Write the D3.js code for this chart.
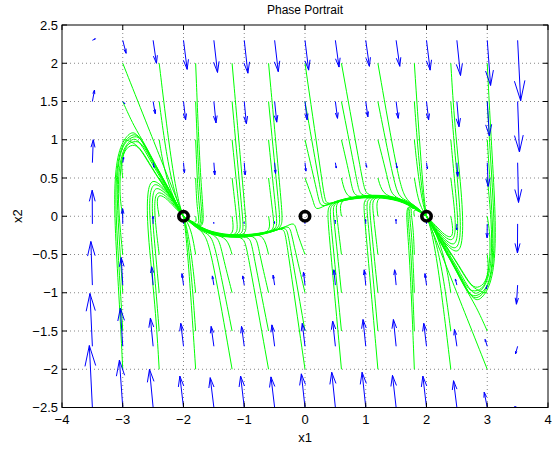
<!DOCTYPE html>
<html>
<head>
<meta charset="utf-8">
<script src="https://cdn.jsdelivr.net/npm/d3@7"></script>
<style>
  body { margin: 0; background: #fff; }
  text { font-family: "Liberation Sans", Arial, Helvetica, sans-serif; }
</style>
</head>
<body>
<svg id="chart" width="552" height="453"></svg>
<script>
// axis ticks
var xTicks = [-4, -3, -2, -1, 0, 1, 2, 3, 4];
var yTicks = [-2.5, -2, -1.5, -1, -0.5, 0, 0.5, 1, 1.5, 2, 2.5];

// quiver grid and the arrows as drawn (data units), rows follow arrowY
var arrowX = [-3.5, -3, -2.5, -2, -1.5, -1, -0.5, 0, 0.5, 1, 1.5, 2, 2.5, 3, 3.5];
var arrowY = [-2.5, -1.7, -0.9, -0.1, 0.7, 1.5, 2.3];
var arrowU = [
  [-0.05, -0.055, -0.06, -0.06, -0.06, -0.06, -0.06, -0.06, -0.06, -0.06, -0.06, -0.06, -0.055, -0.05, -0.05],
  [-0.04, -0.04, -0.045, -0.045, -0.045, -0.045, -0.045, -0.045, -0.045, -0.045, -0.045, -0.045, -0.04, -0.035, -0.035],
  [-0.025, -0.025, -0.025, -0.025, -0.025, -0.025, -0.025, -0.025, -0.025, -0.025, -0.025, -0.025, -0.025, -0.02, -0.02],
  [-0.003, -0.003, -0.003, -0.003, -0.003, -0.003, -0.003, -0.003, -0.003, -0.003, -0.003, -0.003, -0.003, -0.003, -0.003],
  [0.015, 0.015, 0.015, 0.015, 0.015, 0.015, 0.015, 0.015, 0.015, 0.015, 0.015, 0.015, 0.015, 0.015, 0.015],
  [0.035, 0.035, 0.035, 0.035, 0.035, 0.035, 0.035, 0.035, 0.035, 0.035, 0.035, 0.035, 0.035, 0.035, 0.03],
  [0.05, 0.055, 0.055, 0.06, 0.06, 0.06, 0.06, 0.06, 0.06, 0.06, 0.06, 0.06, 0.06, 0.055, 0.05]
];
var arrowV = [
  [0.81, 0.62, 0.50, 0.41, 0.39, 0.41, 0.40, 0.44, 0.46, 0.46, 0.42, 0.41, 0.35, 0.20, 0.01],
  [0.69, 0.50, 0.37, 0.30, 0.26, 0.26, 0.28, 0.30, 0.33, 0.35, 0.35, 0.30, 0.22, 0.09, -0.10],
  [0.57, 0.36, 0.24, 0.15, 0.12, 0.12, 0.13, 0.17, 0.20, 0.20, 0.20, 0.15, 0.08, -0.05, -0.25],
  [0.44, 0.20, 0.10, 0.04, 0.02, 0.02, 0.03, 0.02, 0.05, 0.06, 0.06, 0.03, -0.08, -0.18, -0.38],
  [0.30, 0.07, -0.06, -0.13, -0.16, -0.16, -0.14, -0.11, -0.07, -0.06, -0.07, -0.08, -0.18, -0.31, -0.52],
  [0.15, -0.03, -0.16, -0.24, -0.28, -0.29, -0.27, -0.24, -0.22, -0.20, -0.22, -0.24, -0.33, -0.45, -0.66],
  [0.02, -0.17, -0.30, -0.38, -0.42, -0.43, -0.41, -0.39, -0.35, -0.34, -0.34, -0.39, -0.46, -0.59, -0.79]
];

// equilibrium points
var eqX = [-2, 0, 2];
var eqY = [0, 0, 0];

// curves the trajectories settle onto, each ends at a stable point
var leftBundleX = [-2.85, -2.75, -2.65, -2.5, -2.35, -2.2, -2.1, -2];
var leftBundleY = [1.0, 0.99, 0.89, 0.67, 0.47, 0.27, 0.13, 0];
var rightBundleX = [2.85, 2.75, 2.65, 2.5, 2.35, 2.2, 2.1, 2];
var rightBundleY = [-1.0, -0.99, -0.89, -0.67, -0.47, -0.27, -0.13, 0];
var lowCurveX = [0, -0.15, -0.3, -0.5, -0.7, -0.9, -1.1, -1.3, -1.5, -1.65, -1.8, -1.9, -2];
var lowCurveY = [0, -0.06, -0.13, -0.19, -0.23, -0.255, -0.265, -0.26, -0.23, -0.19, -0.12, -0.065, 0];
var highCurveX = [0, 0.15, 0.3, 0.5, 0.7, 0.9, 1.1, 1.3, 1.5, 1.65, 1.8, 1.9, 2];
var highCurveY = [0, 0.06, 0.13, 0.19, 0.23, 0.255, 0.265, 0.26, 0.23, 0.19, 0.12, 0.065, 0];

// trajectories: start x1, start x2, curve it joins ('' = none), then points read along it
var trajectories = [
  [-3, 2, '', -2.6, 1.2, -2.37, 0.74, -2.18, 0.36, -2, 0],
  [-3, 1.5, 'L', -2.82, 1.18, -2.62, 0.92],
  [-3, 1, 'L', -2.93, 1.0, -2.78, 0.94],
  [-3, 0.5, 'L', -3.03, 0.72, -2.95, 0.9, -2.8, 0.95],
  [-3, 0, 'L', -3.06, 0.3, -3.03, 0.75, -2.93, 0.95, -2.81, 0.98],
  [-3, -0.5, 'L', -3.07, 0.05, -3.08, 0.55, -3.0, 0.88, -2.87, 1.0, -2.78, 1.02],
  [-3, -1, 'L', -3.05, -0.4, -3.1, 0.25, -3.08, 0.72, -2.98, 0.97, -2.82, 1.05],
  [-3, -1.5, 'L', -3.05, -0.8, -3.12, 0.05, -3.11, 0.6, -3.02, 0.94, -2.85, 1.08],
  [-3, -2, 'L', -3.05, -1.2, -3.13, -0.15, -3.14, 0.45, -3.07, 0.9, -2.88, 1.11],

  [-2.4, 2, '', -2.28, 1.2, -2.16, 0.5, -2.06, 0.12, -2, 0],
  [-2.4, 1.5, '', -2.3, 0.9, -2.18, 0.4, -2.06, 0.1, -2, 0],
  [-2.4, 1, '', -2.33, 0.65, -2.2, 0.3, -2.07, 0.09, -2, 0],
  [-2.4, 0.5, '', -2.33, 0.42, -2.2, 0.25, -2.08, 0.08, -2, 0],
  [-2.4, 0, '', -2.44, 0.17, -2.42, 0.29, -2.3, 0.25, -2.15, 0.12, -2, 0],
  [-2.4, -0.5, '', -2.47, -0.05, -2.48, 0.22, -2.43, 0.33, -2.3, 0.28, -2.15, 0.14, -2, 0],
  [-2.4, -1, '', -2.47, -0.4, -2.52, 0.05, -2.51, 0.3, -2.45, 0.39, -2.3, 0.31, -2.15, 0.16, -2, 0],
  [-2.4, -1.5, '', -2.47, -0.8, -2.56, -0.05, -2.56, 0.32, -2.48, 0.45, -2.32, 0.35, -2.15, 0.18, -2, 0],
  [-2.4, -2, '', -2.46, -1.2, -2.6, -0.15, -2.6, 0.33, -2.52, 0.5, -2.34, 0.39, -2.15, 0.2, -2, 0],

  [-1.8, 2, 'l', -1.72, 0.4, -1.64, -0.17],
  [-1.8, 1.5, 'l', -1.74, 0.3, -1.66, -0.16],
  [-1.8, 1, 'l', -1.76, 0.2, -1.69, -0.15],
  [-1.8, 0.5, 'l', -1.78, 0.1, -1.72, -0.14],
  [-1.8, 0, 'l', -1.78, -0.1],
  [-1.8, -0.5, '', -1.86, -0.22, -1.94, -0.07, -2, 0],
  [-1.8, -1, '', -1.86, -0.55, -1.93, -0.2, -1.98, -0.05, -2, 0],
  [-1.8, -1.5, '', -1.86, -0.85, -1.93, -0.3, -1.98, -0.07, -2, 0],
  [-1.8, -2, '', -1.87, -1.15, -1.94, -0.4, -1.98, -0.1, -2, 0],

  [-1.2, 2, 'l', -0.98, 0.0, -0.95, -0.24],
  [-1.2, 1.5, 'l', -1.03, 0.0, -1.0, -0.24],
  [-1.2, 1, 'l', -1.07, 0.0, -1.05, -0.25],
  [-1.2, 0.5, 'l', -1.12, -0.05, -1.1, -0.25],
  [-1.2, 0, 'l', -1.16, -0.25],
  [-1.2, -0.5, 'l', -1.28, -0.28],
  [-1.2, -1, 'l', -1.36, -0.5, -1.42, -0.27],
  [-1.2, -1.5, 'l', -1.45, -0.5, -1.54, -0.25],
  [-1.2, -2, 'l', -1.53, -0.5, -1.65, -0.22],

  [-0.6, 2, 'l', -0.38, 0.1, -0.36, -0.15],
  [-0.6, 1.5, 'l', -0.42, 0.05, -0.4, -0.16],
  [-0.6, 1, 'l', -0.47, 0.0, -0.45, -0.17],
  [-0.6, 0.5, 'l', -0.52, -0.02, -0.5, -0.19],
  [-0.6, 0, 'l', -0.56, -0.2],
  [-0.6, -0.5, 'l', -0.68, -0.23],
  [-0.6, -1, 'l', -0.76, -0.45, -0.8, -0.25],
  [-0.6, -1.5, 'l', -0.86, -0.45, -0.9, -0.26],
  [-0.6, -2, 'l', -0.95, -0.45, -1.0, -0.27],

  [0, 2, 'r', 0.31, 0.3, 0.34, 0.14],
  [0, 1.5, 'r', 0.27, 0.28, 0.3, 0.13],
  [0, 1, 'r', 0.22, 0.25, 0.25, 0.11],
  [0, 0.5, 'r', 0.14, 0.2, 0.17, 0.07],
  [0, -0.5, 'l', -0.14, -0.2, -0.17, -0.07],
  [0, -1, 'l', -0.22, -0.25, -0.25, -0.11],
  [0, -1.5, 'l', -0.27, -0.28, -0.3, -0.13],
  [0, -2, 'l', -0.31, -0.3, -0.34, -0.14],

  [0.6, 2, 'r', 0.95, 0.45, 1.0, 0.27],
  [0.6, 1.5, 'r', 0.86, 0.45, 0.9, 0.26],
  [0.6, 1, 'r', 0.76, 0.45, 0.8, 0.25],
  [0.6, 0.5, 'r', 0.68, 0.23],
  [0.6, 0, 'r', 0.56, 0.2],
  [0.6, -0.5, 'r', 0.52, 0.02, 0.5, 0.19],
  [0.6, -1, 'r', 0.47, 0.0, 0.45, 0.17],
  [0.6, -1.5, 'r', 0.42, -0.05, 0.4, 0.16],
  [0.6, -2, 'r', 0.38, -0.1, 0.36, 0.15],

  [1.2, 2, 'r', 1.53, 0.5, 1.65, 0.22],
  [1.2, 1.5, 'r', 1.45, 0.5, 1.54, 0.25],
  [1.2, 1, 'r', 1.36, 0.5, 1.42, 0.27],
  [1.2, 0.5, 'r', 1.28, 0.28],
  [1.2, 0, 'r', 1.16, 0.25],
  [1.2, -0.5, 'r', 1.12, 0.05, 1.1, 0.25],
  [1.2, -1, 'r', 1.07, 0.0, 1.05, 0.25],
  [1.2, -1.5, 'r', 1.03, 0.0, 1.0, 0.24],
  [1.2, -2, 'r', 0.98, 0.0, 0.95, 0.24],

  [1.8, 2, '', 1.87, 1.15, 1.94, 0.4, 1.98, 0.1, 2, 0],
  [1.8, 1.5, '', 1.86, 0.85, 1.93, 0.3, 1.98, 0.07, 2, 0],
  [1.8, 1, '', 1.86, 0.55, 1.93, 0.2, 1.98, 0.05, 2, 0],
  [1.8, 0.5, '', 1.86, 0.22, 1.94, 0.07, 2, 0],
  [1.8, 0, 'r', 1.78, 0.1],
  [1.8, -0.5, 'r', 1.78, -0.1, 1.72, 0.14],
  [1.8, -1, 'r', 1.76, -0.2, 1.69, 0.15],
  [1.8, -1.5, 'r', 1.74, -0.3, 1.66, 0.16],
  [1.8, -2, 'r', 1.72, -0.4, 1.64, 0.17],

  [2.4, 2, '', 2.46, 1.2, 2.6, 0.15, 2.6, -0.33, 2.52, -0.5, 2.34, -0.39, 2.15, -0.2, 2, 0],
  [2.4, 1.5, '', 2.47, 0.8, 2.56, 0.05, 2.56, -0.32, 2.48, -0.45, 2.32, -0.35, 2.15, -0.18, 2, 0],
  [2.4, 1, '', 2.47, 0.4, 2.52, -0.05, 2.51, -0.3, 2.45, -0.39, 2.3, -0.31, 2.15, -0.16, 2, 0],
  [2.4, 0.5, '', 2.47, 0.05, 2.48, -0.22, 2.43, -0.33, 2.3, -0.28, 2.15, -0.14, 2, 0],
  [2.4, 0, '', 2.44, -0.17, 2.42, -0.29, 2.3, -0.25, 2.15, -0.12, 2, 0],
  [2.4, -0.5, '', 2.33, -0.42, 2.2, -0.25, 2.08, -0.08, 2, 0],
  [2.4, -1, '', 2.33, -0.65, 2.2, -0.3, 2.07, -0.09, 2, 0],
  [2.4, -1.5, '', 2.3, -0.9, 2.18, -0.4, 2.06, -0.1, 2, 0],
  [2.4, -2, '', 2.28, -1.2, 2.16, -0.5, 2.06, -0.12, 2, 0],

  [3, 2, 'R', 3.05, 1.2, 3.13, 0.15, 3.14, -0.45, 3.07, -0.9, 2.88, -1.11],
  [3, 1.5, 'R', 3.05, 0.8, 3.12, -0.05, 3.11, -0.6, 3.02, -0.94, 2.85, -1.08],
  [3, 1, 'R', 3.05, 0.4, 3.1, -0.25, 3.08, -0.72, 2.98, -0.97, 2.82, -1.05],
  [3, 0.5, 'R', 3.07, -0.05, 3.08, -0.55, 3.0, -0.88, 2.87, -1.0, 2.78, -1.02],
  [3, 0, 'R', 3.06, -0.3, 3.03, -0.75, 2.93, -0.95, 2.81, -0.98],
  [3, -0.5, 'R', 3.03, -0.72, 2.95, -0.9, 2.8, -0.95],
  [3, -1, 'R', 2.93, -1.0, 2.78, -0.94],
  [3, -1.5, 'R', 2.82, -1.18, 2.62, -0.92],
  [3, -2, '', 2.6, -1.2, 2.37, -0.74, 2.18, -0.36, 2, 0]
];

var guides = {
  L: { x: leftBundleX, y: leftBundleY },
  R: { x: rightBundleX, y: rightBundleY },
  l: { x: lowCurveX, y: lowCurveY },
  r: { x: highCurveX, y: highCurveY }
};

var width = 552, height = 453;
var plot = { left: 62, right: 548, top: 25, bottom: 407.5 };

var svg = d3.select("#chart")
            .attr("width", width)
            .attr("height", height);

var x = d3.scaleLinear().domain([-4, 4]).range([plot.left, plot.right]);
var y = d3.scaleLinear().domain([-2.5, 2.5]).range([plot.bottom, plot.top]);
var fmt = d3.format("");

// clip to the axes box
svg.append("clipPath").attr("id", "clip")
   .append("rect")
   .attr("x", plot.left).attr("y", plot.top)
   .attr("width", plot.right - plot.left).attr("height", plot.bottom - plot.top);

// dotted grid
var grid = svg.append("g").attr("class", "grid")
              .attr("stroke", "#000").attr("stroke-opacity", 0.6)
              .attr("stroke-width", 0.8).attr("stroke-dasharray", "1,3");
grid.selectAll(".gx")
    .data(xTicks.slice(1, -1))
    .enter().append("line")
    .attr("x1", d => x(d)).attr("x2", d => x(d))
    .attr("y1", plot.top).attr("y2", plot.bottom);
grid.selectAll(".gy")
    .data(yTicks.slice(1, -1))
    .enter().append("line")
    .attr("y1", d => y(d)).attr("y2", d => y(d))
    .attr("x1", plot.left).attr("x2", plot.right);

var inner = svg.append("g").attr("clip-path", "url(#clip)");

// a trajectory: its own points, then the rest of the curve it joins,
// with the gap at the join shrinking to nothing at the stable point
function trajectoryPoints(t) {
  var pts = [[t[0], t[1]]];
  for (var i = 3; i < t.length; i += 2) pts.push([t[i], t[i + 1]]);
  var g = guides[t[2]];
  if (g) {
    var join = pts[pts.length - 1];
    var n = g.x.length, k = 0, best = Infinity;
    g.x.forEach(function(gx, i) {
      var d = (gx - join[0]) * (gx - join[0]) + (g.y[i] - join[1]) * (g.y[i] - join[1]);
      if (d < best) { best = d; k = i; }
    });
    var dx = join[0] - g.x[k], dy = join[1] - g.y[k];
    for (var j = k + 1; j < n; j++) {
      var f = (n - 1 - j) / (n - 1 - k);
      pts.push([g.x[j] + dx * f, g.y[j] + dy * f]);
    }
  }
  return pts;
}

var line = d3.line()
             .x(d => x(d[0]))
             .y(d => y(d[1]))
             .curve(d3.curveBasis);

inner.append("g")
     .selectAll(".traj")
     .data(trajectories)
     .enter().append("path")
     .classed("traj", true)
     .attr("fill", "none")
     .attr("stroke", "#00ff00")
     .attr("stroke-width", 1)
     .attr("d", d => line(trajectoryPoints(d)));

// quiver arrows
var arrows = [];
arrowY.forEach(function(ay, r) {
  arrowX.forEach(function(ax, c) {
    arrows.push({ x: ax, y: ay, u: arrowU[r][c], v: arrowV[r][c] });
  });
});

var alpha = 0.33, beta = 0.33;
function arrowPath(a) {
  var tx = a.x + a.u, ty = a.y + a.v;
  var h1x = tx - alpha * (a.u + beta * a.v), h1y = ty - alpha * (a.v - beta * a.u);
  var h2x = tx - alpha * (a.u - beta * a.v), h2y = ty - alpha * (a.v + beta * a.u);
  return "M" + x(a.x) + "," + y(a.y) + "L" + x(tx) + "," + y(ty) +
         "M" + x(h1x) + "," + y(h1y) + "L" + x(tx) + "," + y(ty) + "L" + x(h2x) + "," + y(h2y);
}

inner.append("g")
     .selectAll(".arrow")
     .data(arrows)
     .enter().append("path")
     .classed("arrow", true)
     .attr("fill", "none")
     .attr("stroke", "#0000ff")
     .attr("stroke-width", 1)
     .attr("d", arrowPath);

// equilibrium markers
svg.append("g")
   .selectAll(".eq")
   .data(eqX)
   .enter().append("circle")
   .attr("cx", d => x(d))
   .attr("cy", (d, i) => y(eqY[i]))
   .attr("r", 4.7)
   .attr("fill", "none")
   .attr("stroke", "#000")
   .attr("stroke-width", 3.6);

// box and inward ticks
var axes = svg.append("g").attr("stroke", "#000").attr("stroke-width", 1);
axes.append("rect")
    .attr("x", plot.left).attr("y", plot.top)
    .attr("width", plot.right - plot.left).attr("height", plot.bottom - plot.top)
    .attr("fill", "none");
xTicks.forEach(function(t) {
  axes.append("line").attr("x1", x(t)).attr("x2", x(t)).attr("y1", plot.bottom).attr("y2", plot.bottom - 5);
  axes.append("line").attr("x1", x(t)).attr("x2", x(t)).attr("y1", plot.top).attr("y2", plot.top + 5);
});
yTicks.forEach(function(t) {
  axes.append("line").attr("y1", y(t)).attr("y2", y(t)).attr("x1", plot.left).attr("x2", plot.left + 5);
  axes.append("line").attr("y1", y(t)).attr("y2", y(t)).attr("x1", plot.right).attr("x2", plot.right - 5);
});

// tick labels
svg.append("g")
   .selectAll(".xl")
   .data(xTicks)
   .enter().append("text")
   .attr("x", d => x(d))
   .attr("y", plot.bottom + 16)
   .attr("font-size", "13px")
   .style("text-anchor", "middle")
   .text(d => fmt(d));
svg.append("g")
   .selectAll(".yl")
   .data(yTicks)
   .enter().append("text")
   .attr("x", plot.left - 4)
   .attr("y", d => y(d))
   .attr("dy", "0.35em")
   .attr("font-size", "13px")
   .style("text-anchor", "end")
   .text(d => fmt(d));

// titles
svg.append("text")
   .attr("x", (plot.left + plot.right) / 2)
   .attr("y", 14)
   .attr("font-size", "12px")
   .style("text-anchor", "middle")
   .text("Phase Portrait");
svg.append("text")
   .attr("x", (plot.left + plot.right) / 2)
   .attr("y", 442)
   .attr("font-size", "13px")
   .style("text-anchor", "middle")
   .text("x1");
svg.append("text")
   .attr("transform", "translate(22," + (plot.top + plot.bottom) / 2 + ") rotate(-90)")
   .attr("font-size", "13px")
   .style("text-anchor", "middle")
   .text("x2");
</script>
</body>
</html>
